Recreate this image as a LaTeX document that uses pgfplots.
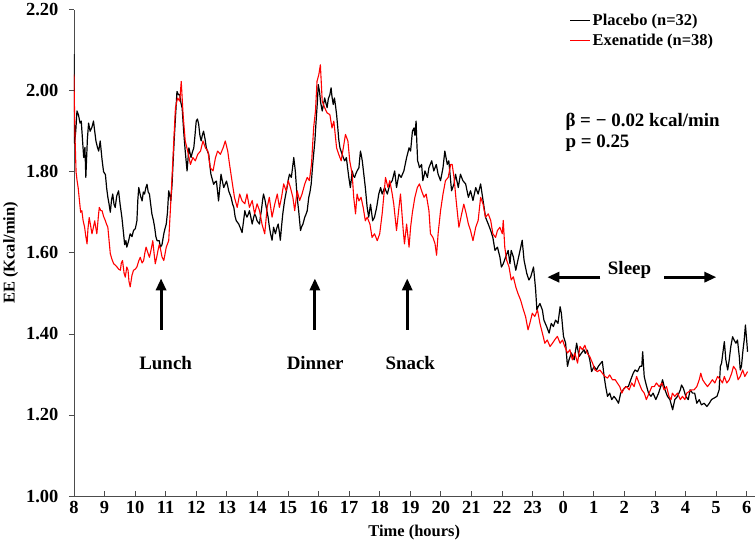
\documentclass[border=0pt]{standalone}
\usepackage{fontspec}
\setmainfont{Liberation Serif}
\usepackage{pgfplots}
\pgfplotsset{compat=1.18}
\usetikzlibrary{arrows.meta}

\newcommand\tf{\fontsize{18.5}{20}\selectfont\bfseries}
\newcommand\lf{\fontsize{16.5}{19}\selectfont\bfseries}
\newcommand\af{\fontsize{19}{22}\selectfont\bfseries}

\begin{document}
\begin{tikzpicture}
\begin{axis}[
    scale only axis,
    width=680bp, height=486bp,
    xmin=8, xmax=30.26,
    ymin=1, ymax=2.2,
    axis x line=bottom, axis y line=left,
    axis line style={-, black!70, line width=0.8bp},
    xtick={8,...,30},
    xticklabels={8,9,10,11,12,13,14,15,16,17,18,19,20,21,22,23,0,1,2,3,4,5,6},
    ytick={1,1.2,1.4,1.6,1.8,2.0,2.2},
    yticklabels={1.00,1.20,1.40,1.60,1.80,2.00,2.20},
    xtick align=inside, ytick align=outside,
    major tick length=5bp,
    tick style={black!70, line width=0.8bp},
    ticklabel style={font=\tf},
    yticklabel style={xshift=-7bp},
    xticklabel style={yshift=-2bp},
    xlabel={Time (hours)}, ylabel={EE (Kcal/min)},
    label style={font=\lf},
    xlabel style={yshift=-4bp},
    ylabel style={yshift=1bp},
    legend style={draw=none, fill=none, at={(axis cs:24.2,2.195)}, anchor=north west,
        font=\lf, row sep=3bp, inner sep=0pt},
    legend cell align=left,
    legend image code/.code={\draw[#1, line width=1.2bp] (0bp,0bp) -- (20bp,0bp);},
    every axis plot/.append style={line join=round},
]
% Placebo (black)
\addplot[black, line width=1.2bp] coordinates {
(8.00,2.09) (8.02,1.87) (8.06,1.90) (8.10,1.95) (8.15,1.94) (8.20,1.92) (8.24,1.925) (8.28,1.88)
(8.32,1.835) (8.36,1.86) (8.39,1.786) (8.44,1.88) (8.48,1.92) (8.53,1.90) (8.59,1.91) (8.64,1.925)
(8.68,1.90) (8.72,1.876) (8.77,1.86) (8.81,1.851) (8.86,1.876) (8.92,1.83) (8.97,1.80) (9.03,1.793)
(9.07,1.76) (9.11,1.737) (9.15,1.72) (9.19,1.70) (9.23,1.73) (9.27,1.745) (9.31,1.72) (9.35,1.712)
(9.40,1.74) (9.46,1.753) (9.51,1.72) (9.57,1.687) (9.62,1.65) (9.66,1.62) (9.70,1.63) (9.73,1.614)
(9.79,1.63) (9.84,1.647) (9.90,1.64) (9.95,1.655) (10.01,1.66) (10.06,1.679) (10.09,1.73) (10.12,1.761)
(10.18,1.74) (10.23,1.728) (10.27,1.75) (10.31,1.745) (10.35,1.76) (10.39,1.769) (10.43,1.75) (10.47,1.745)
(10.51,1.72) (10.55,1.696) (10.60,1.68) (10.64,1.663) (10.68,1.64) (10.72,1.63) (10.79,1.63) (10.83,1.614)
(10.88,1.62) (10.94,1.647) (10.98,1.66) (11.02,1.671) (11.06,1.70) (11.10,1.753) (11.14,1.74) (11.17,1.728)
(11.21,1.77) (11.24,1.818) (11.28,1.88) (11.32,1.933) (11.37,1.998) (11.42,1.99) (11.46,1.99) (11.50,1.97)
(11.54,1.957) (11.59,1.90) (11.64,1.851) (11.70,1.802) (11.73,1.83) (11.76,1.859) (11.80,1.845) (11.83,1.835)
(11.88,1.85) (11.92,1.859) (11.96,1.89) (12.00,1.925) (12.04,1.93) (12.08,1.917) (12.12,1.89) (12.16,1.876)
(12.20,1.89) (12.24,1.90) (12.29,1.88) (12.33,1.859) (12.37,1.85) (12.41,1.843) (12.44,1.82) (12.48,1.794)
(12.53,1.78) (12.57,1.769) (12.62,1.775) (12.66,1.777) (12.70,1.75) (12.73,1.728) (12.77,1.76) (12.81,1.794)
(12.86,1.775) (12.90,1.761) (12.95,1.77) (12.99,1.777) (13.03,1.765) (13.06,1.753) (13.10,1.745) (13.14,1.737)
(13.19,1.72) (13.23,1.712) (13.27,1.69) (13.31,1.679) (13.35,1.675) (13.39,1.671) (13.45,1.66) (13.50,1.65)
(13.55,1.68) (13.59,1.704) (13.62,1.695) (13.66,1.688) (13.70,1.695) (13.74,1.704) (13.78,1.69) (13.83,1.671)
(13.87,1.685) (13.91,1.696) (13.95,1.69) (13.99,1.679) (14.03,1.675) (14.07,1.671) (14.10,1.69) (14.13,1.704)
(14.17,1.73) (14.20,1.745) (14.25,1.73) (14.29,1.712) (14.32,1.70) (14.35,1.688) (14.39,1.665) (14.43,1.647)
(14.48,1.631) (14.53,1.663) (14.59,1.647) (14.63,1.66) (14.68,1.671) (14.72,1.65) (14.75,1.631) (14.79,1.665)
(14.83,1.696) (14.89,1.729) (14.93,1.745) (14.97,1.761) (15.01,1.78) (15.05,1.794) (15.11,1.786) (15.15,1.81)
(15.19,1.835) (15.24,1.802) (15.30,1.737) (15.35,1.704) (15.41,1.655) (15.45,1.665) (15.49,1.671) (15.55,1.688)
(15.59,1.695) (15.63,1.704) (15.68,1.737) (15.72,1.75) (15.76,1.77) (15.81,1.819) (15.88,1.876) (15.92,1.925)
(15.96,1.97) (15.99,2.015) (16.03,1.999) (16.07,1.97) (16.12,1.95) (16.16,1.965) (16.20,1.982) (16.24,1.97)
(16.28,1.958) (16.32,1.98) (16.37,1.99) (16.41,2.007) (16.44,1.985) (16.48,1.966) (16.52,1.982) (16.56,1.96)
(16.59,1.941) (16.63,1.908) (16.66,1.88) (16.70,1.859) (16.74,1.85) (16.77,1.843) (16.81,1.835) (16.85,1.827)
(16.88,1.83) (16.91,1.835) (16.95,1.81) (16.99,1.786) (17.04,1.761) (17.07,1.78) (17.10,1.802) (17.14,1.79)
(17.18,1.786) (17.22,1.795) (17.26,1.802) (17.32,1.81) (17.37,1.851) (17.40,1.84) (17.43,1.827) (17.48,1.794)
(17.53,1.761) (17.59,1.712) (17.64,1.688) (17.70,1.72) (17.77,1.679) (17.83,1.688) (17.90,1.712) (17.97,1.745)
(18.03,1.761) (18.08,1.745) (18.16,1.761) (18.25,1.745) (18.33,1.769) (18.41,1.778) (18.49,1.802) (18.55,1.761)
(18.63,1.794) (18.70,1.786) (18.79,1.802) (18.88,1.835) (18.96,1.859) (19.01,1.851) (19.07,1.90) (19.12,1.908)
(19.15,1.89) (19.19,1.925) (19.21,1.88) (19.24,1.827) (19.27,1.82) (19.30,1.81) (19.37,1.818) (19.41,1.778)
(19.45,1.79) (19.48,1.802) (19.56,1.786) (19.61,1.81) (19.70,1.827) (19.77,1.802) (19.85,1.818) (19.91,1.794)
(19.99,1.778) (20.07,1.81) (20.13,1.851) (20.21,1.818) (20.26,1.827) (20.35,1.753) (20.43,1.77) (20.48,1.794)
(20.57,1.761) (20.64,1.794) (20.72,1.778) (20.81,1.77) (20.90,1.737) (20.97,1.753) (21.05,1.729) (21.14,1.761)
(21.22,1.745) (21.30,1.77) (21.38,1.729) (21.46,1.688) (21.55,1.671) (21.63,1.655) (21.70,1.638) (21.77,1.606)
(21.85,1.614) (21.93,1.59) (21.98,1.565) (22.04,1.573) (22.12,1.59) (22.20,1.606) (22.26,1.573) (22.30,1.606)
(22.37,1.59) (22.45,1.557) (22.52,1.582) (22.59,1.606) (22.66,1.631) (22.72,1.582) (22.81,1.549) (22.88,1.533)
(22.94,1.541) (23.03,1.565) (23.07,1.533) (23.10,1.508) (23.14,1.459) (23.18,1.467) (23.24,1.475) (23.32,1.459)
(23.37,1.434) (23.46,1.418) (23.54,1.402) (23.61,1.426) (23.68,1.418) (23.75,1.434) (23.83,1.426) (23.90,1.467)
(23.94,1.451) (24.01,1.394) (24.08,1.377) (24.14,1.32) (24.19,1.336) (24.27,1.353) (24.36,1.336) (24.44,1.377)
(24.52,1.344) (24.60,1.353) (24.68,1.361) (24.72,1.352) (24.79,1.36) (24.87,1.336) (24.93,1.307) (25.01,1.32)
(25.09,1.311) (25.15,1.32) (25.23,1.328) (25.28,1.332) (25.34,1.295) (25.39,1.27) (25.45,1.246) (25.52,1.254)
(25.59,1.238) (25.66,1.246) (25.74,1.238) (25.81,1.229) (25.88,1.254) (25.96,1.262) (26.05,1.27) (26.13,1.27)
(26.21,1.287) (26.29,1.303) (26.35,1.311) (26.43,1.307) (26.51,1.32) (26.57,1.32) (26.60,1.356) (26.65,1.295)
(26.70,1.279) (26.79,1.254) (26.87,1.246) (26.94,1.254) (27.03,1.238) (27.12,1.254) (27.19,1.27) (27.25,1.287)
(27.33,1.262) (27.41,1.246) (27.49,1.238) (27.58,1.213) (27.65,1.238) (27.74,1.246) (27.83,1.262) (27.87,1.274)
(27.93,1.266) (28.01,1.246) (28.09,1.238) (28.15,1.262) (28.23,1.254) (28.30,1.254) (28.37,1.229) (28.45,1.238)
(28.52,1.225) (28.61,1.229) (28.70,1.221) (28.78,1.229) (28.85,1.238) (28.94,1.242) (29.03,1.246) (29.10,1.262)
(29.14,1.32) (29.18,1.328) (29.22,1.352) (29.27,1.381) (29.32,1.336) (29.38,1.311) (29.43,1.336) (29.48,1.368)
(29.54,1.393) (29.59,1.385) (29.65,1.377) (29.70,1.385) (29.76,1.344) (29.79,1.311) (29.83,1.32) (29.88,1.36)
(29.92,1.385) (29.96,1.422) (30.00,1.385) (30.03,1.356)
};
\addlegendentry{Placebo (n=32)}
% Exenatide (red)
\addplot[red, line width=1.1bp] coordinates {
(8.00,2.04) (8.02,1.95) (8.04,1.876) (8.07,1.80) (8.10,1.78) (8.14,1.76) (8.17,1.737) (8.22,1.70)
(8.26,1.704) (8.30,1.68) (8.35,1.663) (8.39,1.64) (8.43,1.622) (8.46,1.66) (8.50,1.687) (8.54,1.67)
(8.59,1.647) (8.63,1.66) (8.68,1.679) (8.72,1.66) (8.75,1.647) (8.80,1.69) (8.83,1.712) (8.88,1.704)
(8.92,1.704) (8.97,1.69) (9.03,1.679) (9.07,1.67) (9.11,1.663) (9.15,1.63) (9.19,1.598) (9.24,1.585)
(9.30,1.573) (9.35,1.57) (9.41,1.565) (9.46,1.56) (9.52,1.557) (9.55,1.575) (9.59,1.581) (9.64,1.55)
(9.68,1.54) (9.73,1.565) (9.77,1.557) (9.80,1.53) (9.84,1.516) (9.90,1.545) (9.95,1.557) (10.01,1.56)
(10.06,1.565) (10.12,1.58) (10.17,1.589) (10.23,1.575) (10.28,1.581) (10.32,1.60) (10.36,1.614) (10.42,1.60)
(10.47,1.589) (10.53,1.61) (10.58,1.63) (10.62,1.60) (10.66,1.573) (10.71,1.59) (10.75,1.606) (10.79,1.62)
(10.83,1.61) (10.88,1.59) (10.94,1.581) (11.02,1.614) (11.10,1.63) (11.17,1.728) (11.24,1.835) (11.32,1.957)
(11.39,1.982) (11.46,1.974) (11.51,2.023) (11.57,1.941) (11.64,1.876) (11.72,1.851) (11.81,1.818) (11.89,1.835)
(11.97,1.827) (12.05,1.843) (12.14,1.851) (12.22,1.876) (12.30,1.859) (12.38,1.851) (12.46,1.81) (12.55,1.802)
(12.63,1.835) (12.70,1.851) (12.79,1.843) (12.88,1.859) (12.95,1.876) (13.03,1.851) (13.09,1.818) (13.17,1.777)
(13.25,1.737) (13.34,1.712) (13.42,1.745) (13.50,1.728) (13.59,1.721) (13.66,1.745) (13.74,1.712) (13.83,1.729)
(13.91,1.696) (13.99,1.721) (14.07,1.704) (14.15,1.671) (14.24,1.647) (14.32,1.712) (14.39,1.737) (14.48,1.688)
(14.57,1.721) (14.65,1.745) (14.72,1.712) (14.79,1.737) (14.86,1.77) (14.94,1.753) (15.01,1.778) (15.08,1.761)
(15.16,1.737) (15.22,1.704) (15.30,1.753) (15.38,1.729) (15.46,1.745) (15.55,1.77) (15.63,1.786) (15.70,1.778)
(15.77,1.819) (15.84,1.909) (15.90,1.95) (15.95,2.023) (16.01,2.04) (16.06,2.064) (16.12,1.974) (16.20,1.958)
(16.28,1.945) (16.37,1.941) (16.44,1.908) (16.50,1.925) (16.59,1.859) (16.66,1.843) (16.74,1.827) (16.83,1.868)
(16.88,1.892) (16.96,1.876) (17.02,1.827) (17.10,1.794) (17.15,1.737) (17.21,1.696) (17.26,1.745) (17.32,1.728)
(17.39,1.737) (17.46,1.712) (17.53,1.679) (17.59,1.688) (17.68,1.671) (17.75,1.638) (17.83,1.647) (17.92,1.63)
(18.00,1.647) (18.08,1.696) (18.14,1.745) (18.19,1.786) (18.27,1.761) (18.33,1.778) (18.41,1.745) (18.46,1.72)
(18.55,1.655) (18.63,1.712) (18.68,1.745) (18.77,1.655) (18.81,1.622) (18.88,1.671) (18.96,1.614) (19.01,1.663)
(19.07,1.70) (19.15,1.737) (19.23,1.761) (19.30,1.77) (19.37,1.753) (19.45,1.737) (19.52,1.745) (19.61,1.704)
(19.66,1.647) (19.74,1.638) (19.81,1.622) (19.86,1.594) (19.91,1.647) (19.99,1.704) (20.07,1.745) (20.15,1.778)
(20.24,1.786) (20.32,1.818) (20.37,1.818) (20.43,1.786) (20.50,1.729) (20.59,1.663) (20.68,1.696) (20.75,1.72)
(20.83,1.696) (20.90,1.671) (20.97,1.655) (21.05,1.63) (21.14,1.663) (21.22,1.68) (21.30,1.737) (21.38,1.72)
(21.46,1.688) (21.55,1.696) (21.63,1.68) (21.70,1.647) (21.79,1.638) (21.85,1.655) (21.93,1.663) (22.01,1.647)
(22.04,1.68) (22.09,1.614) (22.15,1.582) (22.23,1.565) (22.30,1.533) (22.37,1.541) (22.45,1.516) (22.52,1.50)
(22.61,1.483) (22.70,1.459) (22.77,1.443) (22.85,1.41) (22.91,1.426) (22.99,1.451) (23.07,1.443) (23.16,1.459)
(23.24,1.426) (23.32,1.402) (23.40,1.377) (23.48,1.385) (23.57,1.369) (23.65,1.377) (23.72,1.385) (23.81,1.394)
(23.90,1.377) (23.98,1.385) (24.05,1.369) (24.14,1.353) (24.22,1.361) (24.30,1.336) (24.38,1.353) (24.47,1.328)
(24.55,1.369) (24.63,1.361) (24.71,1.372) (24.79,1.352) (24.87,1.344) (24.96,1.328) (25.04,1.311) (25.12,1.307)
(25.20,1.311) (25.28,1.303) (25.37,1.295) (25.45,1.291) (25.52,1.299) (25.61,1.287) (25.70,1.287) (25.77,1.279)
(25.85,1.27) (25.92,1.254) (25.99,1.266) (26.07,1.27) (26.16,1.262) (26.24,1.279) (26.32,1.27) (26.40,1.295)
(26.48,1.279) (26.57,1.262) (26.65,1.254) (26.72,1.238) (26.81,1.254) (26.90,1.27) (26.98,1.27) (27.05,1.279)
(27.14,1.27) (27.23,1.279) (27.30,1.262) (27.38,1.27) (27.46,1.246) (27.53,1.238) (27.57,1.254) (27.65,1.246)
(27.74,1.254) (27.83,1.238) (27.90,1.246) (27.98,1.238) (28.04,1.254) (28.12,1.258) (28.20,1.262) (28.28,1.262)
(28.37,1.27) (28.45,1.287) (28.50,1.303) (28.56,1.287) (28.63,1.279) (28.72,1.27) (28.81,1.279) (28.88,1.287)
(28.96,1.279) (29.05,1.295) (29.14,1.287) (29.21,1.279) (29.27,1.295) (29.35,1.279) (29.43,1.287) (29.51,1.303)
(29.57,1.32) (29.65,1.311) (29.72,1.287) (29.79,1.295) (29.87,1.311) (29.94,1.295) (30.03,1.307)
};
\addlegendentry{Exenatide (n=38)}

% meal arrows
\draw[-{Triangle[width=10bp,length=12bp]}, line width=3bp] (axis cs:10.85,1.41) -- (axis cs:10.85,1.537);
\draw[-{Triangle[width=10bp,length=12bp]}, line width=3bp] (axis cs:15.88,1.41) -- (axis cs:15.88,1.537);
\draw[-{Triangle[width=10bp,length=12bp]}, line width=3bp] (axis cs:18.90,1.41) -- (axis cs:18.90,1.537);
\node[font=\af] at (axis cs:11.0,1.329) {Lunch};
\node[font=\af] at (axis cs:15.89,1.329) {Dinner};
\node[font=\af] at (axis cs:19.0,1.329) {Snack};
% sleep
\node[font=\af] at (axis cs:26.17,1.557) {Sleep};
\draw[-{Triangle[width=10bp,length=12bp]}, line width=3bp] (axis cs:25.22,1.54) -- (axis cs:23.48,1.54);
\draw[-{Triangle[width=10bp,length=12bp]}, line width=3bp] (axis cs:27.31,1.54) -- (axis cs:29.01,1.54);
% stats
\node[font=\af, anchor=west, align=left, inner sep=0pt] at (axis cs:24.07,1.897)
  {β = − 0.02 kcal/min\\[-1bp] p = 0.25};
\end{axis}
\end{tikzpicture}
\end{document}
